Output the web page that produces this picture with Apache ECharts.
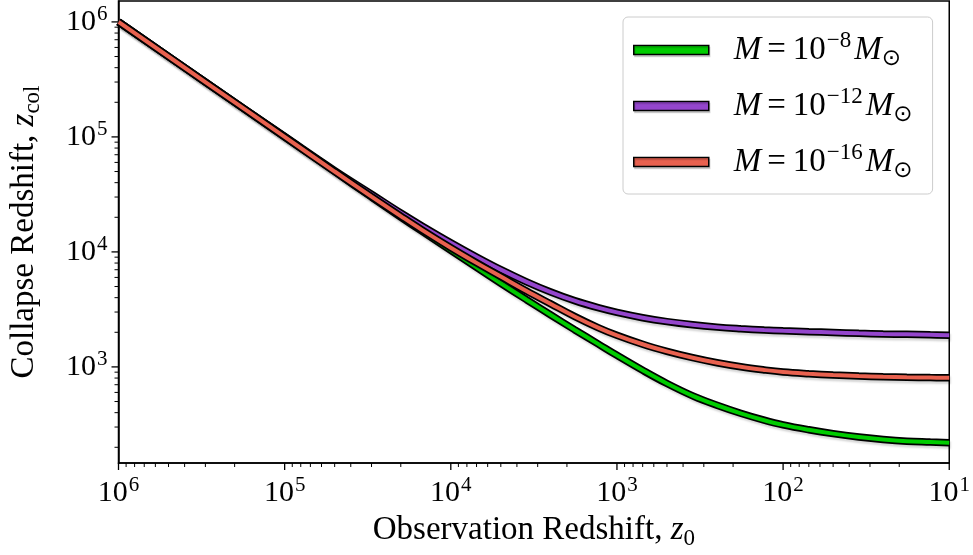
<!DOCTYPE html>
<html><head><meta charset="utf-8">
<script src="https://cdn.jsdelivr.net/npm/echarts@6/dist/echarts.min.js"></script>
<style>html,body{margin:0;padding:0;background:#fff}#c{width:973px;height:555px}</style>
</head><body><div id="c"></div>
<script>
// ---- data ----
const z0 = [1e6, 3e5, 1e5, 5e4, 3e4, 2e4, 1.5e4, 1e4, 7000, 5000, 3500, 2500, 1800, 1300, 1000, 700, 500, 350, 250, 180, 130, 100, 70, 50, 35, 25, 18, 13, 10];
const zcolM8  = [1e6, 3e5, 1e5, 5.0e4, 3.0e4, 2.01e4, 1.52e4, 10300, 7330, 5340, 3840, 2830, 2107, 1586, 1261, 934, 717, 560, 464, 395, 344, 313, 284, 263, 246, 234, 226, 222, 219];
const zcolM12 = [1e6, 3e5, 1.01e5, 5.1e4, 3.18e4, 2.18e4, 16920, 12020, 9036, 7015, 5495, 4477, 3767, 3273, 2979, 2679, 2477, 2323, 2218, 2148, 2094, 2061, 2023, 1991, 1959, 1936, 1919, 1901, 1888];
const zcolM16 = [1e6, 3e5, 1e5, 5.0e4, 3.03e4, 2.05e4, 15630, 10870, 8030, 6108, 4574, 3531, 2748, 2197, 1881, 1573, 1366, 1202, 1086, 1002, 941, 903, 872, 850, 833, 822, 814, 808, 804];
const seriesNames = ['M8', 'M12', 'M16'];
const legendExponents = ['\u22128', '\u221212', '\u221216'];
const seriesColors = ['#00cc00', '#9446cc', '#e8614f'];
const xTickValues = [1e6, 1e5, 1e4, 1e3, 1e2, 1e1];
const yTickValues = [1e3, 1e4, 1e5, 1e6];
const xRange = [10, 1e6];
const yRange = [146, 1.52e6];
const xTitle = ['Observation Redshift, ', 'z', '0'];
const yTitle = ['Collapse Redshift, ', 'z', 'col'];

const FONT = '"Liberation Serif", "DejaVu Serif", serif';
const chart = echarts.init(document.getElementById('c'), null, {renderer: 'canvas'});

function powLabel(v) {
  const e = Math.log10(v), r = Math.round(e);
  if (Math.abs(e - r) > 1e-6) return '';
  return '{b|10}{s|' + r + '}';
}
const tickRich = {
  b: {fontSize: 30, fontFamily: FONT, color: '#000', lineHeight: 36},
  s: {fontSize: 21, fontFamily: FONT, color: '#000', lineHeight: 12, verticalAlign: 'top', padding: [0, 0, 0, 1]}
};
const titleRich = {
  r: {fontSize: 33, fontFamily: FONT, color: '#000', lineHeight: 40},
  i: {fontSize: 33, fontFamily: FONT, fontStyle: 'italic', color: '#000', lineHeight: 40},
  sub: {fontSize: 23, fontFamily: FONT, color: '#000', lineHeight: 22, verticalAlign: 'bottom'}
};

// tick marks (major from tick arrays, minor at 2..9 per decade)
const tickData = [];
function addTicks(axisIdx, majors, range) {
  majors.forEach(v => tickData.push(axisIdx === 0 ? [v, 1e3, 0, 1] : [1e3, v, 1, 1]));
  const lo = Math.floor(Math.log10(range[0])), hi = Math.ceil(Math.log10(range[1]));
  for (let d = lo; d < hi; d++) {
    for (let k = 2; k <= 9; k++) {
      const v = k * Math.pow(10, d);
      if (v > range[0] && v < range[1]) tickData.push(axisIdx === 0 ? [v, 1e3, 0, 0] : [1e3, v, 1, 0]);
    }
  }
}
addTicks(0, xTickValues, xRange);
addTicks(1, yTickValues, yRange);

const curves = [zcolM8, zcolM12, zcolM16];
const series = [];
curves.forEach((ys, i) => {
  const data = z0.map((x, j) => [x, ys[j]]);
  series.push({
    name: seriesNames[i] + '_outline', type: 'line', data, showSymbol: false, smooth: 0.4, silent: true,
    lineStyle: {color: '#000', width: 7.5, shadowColor: 'rgba(0,0,0,0.16)', shadowBlur: 2, shadowOffsetX: 1.5, shadowOffsetY: 2.5},
    itemStyle: {color: '#000'}, z: 2 + i * 2
  });
  series.push({
    name: seriesNames[i], type: 'line', data, showSymbol: false, smooth: 0.4, silent: true,
    lineStyle: {color: seriesColors[i], width: 4},
    itemStyle: {color: seriesColors[i]}, z: 3 + i * 2
  });
});
series.push({
  type: 'custom', silent: true, clip: false, z: 20,
  data: tickData,
  encode: {x: 0, y: 1},
  renderItem: function (params, api) {
    const cs = params.coordSys;
    const axis = api.value(2), major = api.value(3);
    const len = major ? 7 : 4;
    const w = major ? 1.3 : 1;
    if (axis === 0) {
      const x = api.coord([api.value(0), 1e3])[0];
      const y = cs.y + cs.height;
      return {type: 'line', shape: {x1: x, y1: y, x2: x, y2: y + len}, style: {stroke: '#000', lineWidth: w}};
    } else {
      const y = api.coord([1e3, api.value(1)])[1];
      const x = cs.x;
      return {type: 'line', shape: {x1: x - len, y1: y, x2: x, y2: y}, style: {stroke: '#000', lineWidth: w}};
    }
  }
});

const option = {
  animation: false,
  backgroundColor: '#fff',
  grid: {left: 117, right: 23, top: 1, bottom: 89, show: true, borderColor: '#000', borderWidth: 1.5, backgroundColor: 'transparent'},
  xAxis: {
    type: 'log', logBase: 10, inverse: true, min: xRange[0], max: xRange[1],
    axisLine: {show: true, lineStyle: {color: '#000', width: 1.5}},
    axisTick: {show: false}, splitLine: {show: false},
    axisLabel: {formatter: powLabel, margin: 12, rich: tickRich},
    name: '{r|' + xTitle[0] + '}{i|' + xTitle[1] + '}{sub|' + xTitle[2] + '}',
    nameLocation: 'middle', nameGap: 47,
    nameTextStyle: {rich: titleRich}
  },
  yAxis: {
    type: 'log', logBase: 10, min: yRange[0], max: yRange[1],
    axisLine: {show: true, lineStyle: {color: '#000', width: 1.5}},
    axisTick: {show: false}, splitLine: {show: false},
    axisLabel: {formatter: powLabel, margin: 11, rich: tickRich},
    name: '{r|' + yTitle[0] + '}{i|' + yTitle[1] + '}{sub|' + yTitle[2] + '}',
    nameLocation: 'middle', nameGap: 74, nameRotate: 90,
    nameTextStyle: {rich: titleRich}
  },
  legend: {
    orient: 'vertical', left: 623, top: 17,
    padding: [12, 20, 11, 10],
    itemWidth: 75, itemHeight: 9, itemGap: 14,
    selectedMode: false,
    backgroundColor: '#fff', borderColor: '#cccccc', borderWidth: 1, borderRadius: 5,
    data: seriesNames.map((n, i) => ({name: n, icon: 'rect', itemStyle: {color: seriesColors[i], borderColor: '#000', borderWidth: 1.5, shadowColor: 'rgba(0,0,0,0.15)', shadowOffsetX: 1, shadowOffsetY: 2}})),
    formatter: function (name) {
      const i = seriesNames.indexOf(name);
      return '{i|M}{eq|=}{n|10}{sup|' + legendExponents[i] + '}{i|M}{sub|\u2299}';
    },
    textStyle: {
      padding: [0, 0, 0, 20],
      rich: {
        i: {fontSize: 33, fontFamily: FONT, fontStyle: 'italic', color: '#000', lineHeight: 42},
        eq: {fontSize: 33, fontFamily: FONT, color: '#000', lineHeight: 42, padding: [0, 7, 0, 6]},
        n: {fontSize: 33, fontFamily: FONT, color: '#000', lineHeight: 42},
        sup: {fontSize: 23, fontFamily: FONT, color: '#000', lineHeight: 25, verticalAlign: 'top', padding: [0, 3, 0, 1]},
        sub: {fontSize: 23, fontFamily: '"DejaVu Sans", sans-serif', color: '#000', lineHeight: 26, verticalAlign: 'bottom'}
      }
    }
  },
  series: series
};
chart.setOption(option);
</script>
</body></html>
